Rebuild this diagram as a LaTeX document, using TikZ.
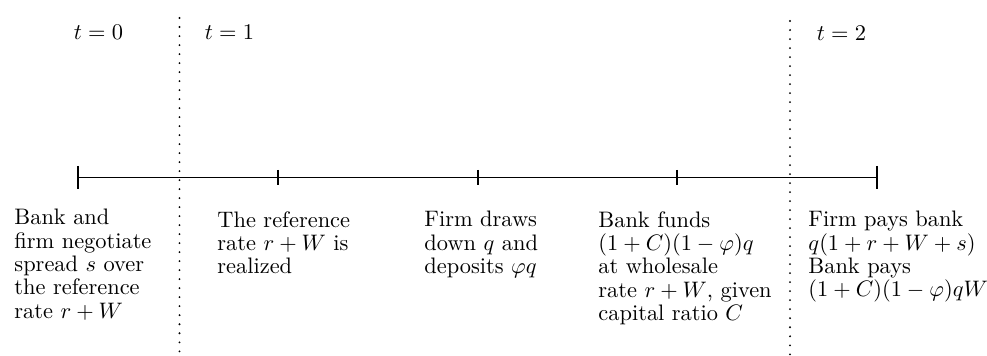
\documentclass[tikz,border=0pt]{standalone}
\usetikzlibrary{calc}
\begin{document}
\begin{tikzpicture}[x=0.4463pt,y=-0.4463pt,
  axis/.style={line width=0.8pt},
  tickmark/.style={line width=0.8pt},
  sep/.style={line width=0.9pt, line cap=round, dash pattern=on 0pt off 4.02pt},
  lab/.style={anchor=north west, inner sep=0pt, align=left, font=\fontsize{10}{10.4}\selectfont},
  tlab/.style={inner sep=0pt}]
\useasboundingbox (0,0) rectangle (987,356);
% timeline
\coordinate (p0) at (78,177.5);
\coordinate (p1) at (278,177.5);
\coordinate (p2) at (478,177.5);
\coordinate (p3) at (677,177.5);
\coordinate (p4) at (877,177.5);
\draw[axis] (p0) -- (p4);
\draw[tickmark] ($(p0)+(0,-11.5)$) -- ($(p0)+(0,11.5)$);
\draw[tickmark] ($(p4)+(0,-11.5)$) -- ($(p4)+(0,11.5)$);
\foreach \p in {p1,p2,p3}
  \draw[tickmark] ($(\p)+(0,-7.5)$) -- ($(\p)+(0,7.5)$);
% separators
\coordinate (s1t) at (179.5,18);
\coordinate (s1b) at (179.5,356);
\coordinate (s2t) at (790,21);
\coordinate (s2b) at (790,356);
\draw[sep] (s1t) -- (s1b);
\draw[sep] (s2t) -- (s2b);
% time labels
\node[tlab] (t0) at (98.5,32) {$t=0$};
\node[tlab] (t1) at (229.5,32) {$t=1$};
\node[tlab] (t2) at (841.5,33) {$t=2$};
% descriptions
\node[lab] (d0) at (14,209) {Bank and\\ firm negotiate\\ spread $s$ over\\ the reference\\ rate $r+W$};
\node[lab] (d1) at (217,211) {The reference\\ rate $r+W$ is\\ realized};
\node[lab] (d2) at (424,211) {Firm draws\\ down $q$ and\\ deposits $\varphi q$};
\node[lab] (d3) at (598,211) {Bank funds\\ $(1+C)(1-\varphi)q$\\ at wholesale\\ rate $r+W$, given\\ capital ratio $C$};
\node[lab] (d4) at (808,211) {Firm pays bank\\ $q(1+r+W+s)$\\ Bank pays\\ $(1+C)(1-\varphi)qW$};
\end{tikzpicture}
\end{document}
